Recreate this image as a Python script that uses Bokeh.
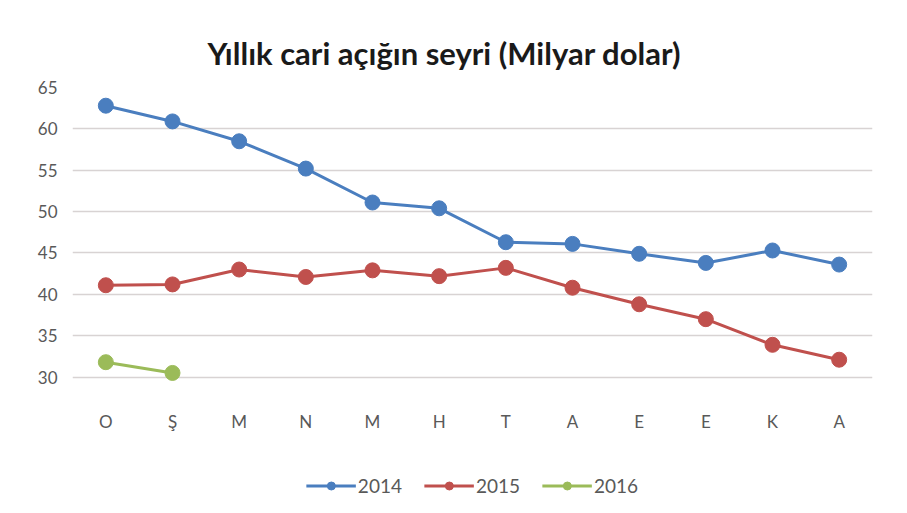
from bokeh.plotting import figure
from bokeh.layouts import column
from bokeh.models import Range1d, FixedTicker, Legend, LegendItem
from bokeh.embed import file_html
from bokeh.resources import INLINE

months = ["O", "Ş", "M", "N", "M", "H", "T", "A", "E", "E", "K", "A"]
y2014 = [62.8, 60.9, 58.5, 55.2, 51.1, 50.4, 46.3, 46.1, 44.9, 43.8, 45.3, 43.6]
y2015 = [41.1, 41.2, 43.0, 42.1, 42.9, 42.2, 43.2, 40.8, 38.8, 37.0, 33.9, 32.1]
y2016 = [31.8, 30.5]
y_ticks = [30, 35, 40, 45, 50, 55, 60, 65]
series_names = ["2014", "2015", "2016"]
colors = ["#4a7ebf", "#c0504d", "#9bbb59"]

FONT = "Lato"
GRAY = "#595959"

p = figure(width=891, height=439, output_backend="svg", toolbar_location=None,
           x_range=Range1d(-0.5, len(months) - 0.5), y_range=Range1d(28.5, 65),
           min_border_left=72, min_border_right=19, min_border_top=87,
           min_border_bottom=50)
p.outline_line_color = None
p.background_fill_color = "white"
p.border_fill_color = "white"

p.title.text = "Yıllık cari açığın seyri (Milyar dolar)"
p.title.align = "left"
p.title.offset = 135
p.title.text_font = FONT
p.title.text_font_size = "31px"
p.title.text_font_style = "bold"
p.title.text_color = "#1a1a1a"
p.title.standoff = 32

idx = list(range(len(months)))
p.xaxis.ticker = FixedTicker(ticks=idx)
p.xaxis.major_label_overrides = {i: m for i, m in enumerate(months)}
p.yaxis.ticker = FixedTicker(ticks=y_ticks)
for ax in (p.xaxis, p.yaxis):
    ax.axis_line_color = None
    ax.major_tick_line_color = None
    ax.minor_tick_line_color = None
    ax.major_label_text_font = FONT
    ax.major_label_text_font_size = "17px"
    ax.major_label_text_color = GRAY
p.xaxis.major_label_standoff = 15
p.yaxis.major_label_standoff = 9

p.xgrid.grid_line_color = None
p.ygrid.grid_line_color = "#d8d3d3"
p.ygrid.grid_line_width = 1.6

for ys, col in zip([y2014, y2015, y2016], colors):
    xs = idx[:len(ys)]
    p.line(xs, ys, line_color=col, line_width=3)
    p.scatter(xs, ys, size=15, fill_color=col, line_color=col)

# legend strip below the chart (its renderers hold the same data, out of view)
lg = figure(width=891, height=58, output_backend="svg", toolbar_location=None,
            x_axis_type=None, y_axis_type=None,
            x_range=Range1d(0, 1), y_range=Range1d(0, 1),
            min_border_left=0, min_border_right=0, min_border_top=34, min_border_bottom=0)
lg.outline_line_color = None
lg.border_fill_color = "white"
lg.background_fill_color = "white"
items = []
for name, ys, col in zip(series_names, [y2014, y2015, y2016], colors):
    xs = idx[:len(ys)]
    l = lg.line(xs, ys, line_color=col, line_width=3)
    s = lg.scatter(xs, ys, size=10, fill_color=col, line_color=col)
    items.append(LegendItem(label=name, renderers=[l, s]))
legend = Legend(items=items, orientation="horizontal", location="center",
                glyph_width=50, label_standoff=2, spacing=22, margin=0, padding=0,
                label_text_font=FONT, label_text_font_size="19px",
                label_text_color=GRAY, border_line_color=None,
                background_fill_alpha=0)
lg.add_layout(legend)

layout = column(p, lg, spacing=0)
open("out.html", "w").write(file_html(layout, INLINE))
